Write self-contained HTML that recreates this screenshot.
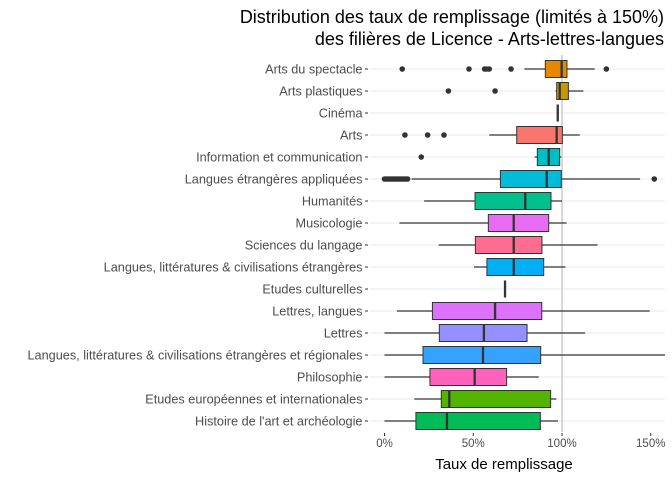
<!DOCTYPE html>
<html><head><meta charset="utf-8"><style>
body{margin:0;background:#fff;}
svg text{font-family:"Liberation Sans",sans-serif;}
</style></head><body>
<svg id="chart" width="672" height="480" xmlns="http://www.w3.org/2000/svg">
<text x="664" y="23" text-anchor="end" font-size="18" fill="#000">Distribution des taux de remplissage (limités à 150%)</text>
<text x="664" y="45" text-anchor="end" font-size="18" fill="#000">des filières de Licence - Arts-lettres-langues</text>
<g id="grid"></g><g id="marks"></g><g id="axes"></g>
<text x="504" y="469" text-anchor="middle" font-size="15" fill="#000">Taux de remplissage</text>
</svg>
<script>
const categories=["Arts du spectacle","Arts plastiques","Cinéma","Arts","Information et communication","Langues étrangères appliquées","Humanités","Musicologie","Sciences du langage","Langues, littératures & civilisations étrangères","Etudes culturelles","Lettres, langues","Lettres","Langues, littératures & civilisations étrangères et régionales","Philosophie","Etudes européennes et internationales","Histoire de l'art et archéologie"];
const whiskerLow=[78.8,96.4,97.6,59,84.6,15.3,22.3,8.4,30.5,50.4,67.9,7,0,0,0,16.8,0];
const q1=[90.6,97,97.6,74.5,86.1,65.3,51,58.5,51.2,57.7,67.9,27,30.9,21.7,25.6,32,17.7];
const medians=[99.8,98.7,97.6,97,92.5,91.4,79.3,72.8,72.8,72.8,67.9,62.3,56,55.5,50.8,36.5,35.2];
const q3=[102.8,103.6,97.6,100.2,98.7,99.6,93.8,92.5,88.7,89.7,67.9,88.6,80.3,88,68.8,93.6,87.8];
const whiskerHigh=[118.4,112,97.6,110,99.6,144,100,102.6,120,102,67.9,149.4,113,158,86.9,96.8,97.7];
const outliers=[[10,47.6,56.4,57.5,59,71.3,125],[36,62.3],[],[11.5,24.3,33.5],[20.7],[0,1,2,3,4,5,6,7,8,9,10,11,12,13,152],[],[],[],[],[],[],[],[],[],[],[]];
const colors=["#E58700","#C99800","#A3A500","#F8766D","#00BFC4","#00BCD8","#00C08B","#E76BF3","#FF6C91","#00B0F6","#6BB100","#DC71FA","#9590FF","#35A2FF","#FF62BC","#53B400","#00BC56"];
const xTicks=[0,50,100,150];
const xTickLabels=["0%","50%","100%","150%"];
const NS="http://www.w3.org/2000/svg";
const x=v=>384.5+v*1.775;
const y=i=>69+i*22;
const P0=369,P1=665;
function mk(t,a,p){const e=document.createElementNS(NS,t);for(const k in a)e.setAttribute(k,a[k]);p.appendChild(e);return e;}
const grid=document.getElementById('grid'),marks=document.getElementById('marks'),axes=document.getElementById('axes');
categories.forEach((c,i)=>{
 const g=mk('line',{x1:P0,x2:P1,y1:y(i),y2:y(i),stroke:'#ebebeb','stroke-width':1.1},grid);
 
 
 const tk=mk('line',{x1:365,x2:368,y1:y(i),y2:y(i),stroke:'#333','stroke-width':1},axes);
 
 
 const t=mk('text',{x:362.5,y:y(i)+4.4,'text-anchor':'end','font-size':12.7,fill:'#4d4d4d'},axes);
 t.textContent=c;
 
 
});
const vl=mk('line',{x1:x(100),x2:x(100),y1:55,y2:432,stroke:'#bdbdbd','stroke-width':1.2},grid);


xTicks.forEach((v,k)=>{
 const tk=mk('line',{x1:x(v),x2:x(v),y1:433,y2:436,stroke:'#333'},axes);
 
 
 const t=mk('text',{x:x(v),y:447,'text-anchor':'middle','font-size':11.5,fill:'#4d4d4d'},axes);
 t.textContent=xTickLabels[k];
 
 
});
categories.forEach((c,i)=>{
 const yy=y(i);
 const w=mk('line',{x1:x(whiskerLow[i]),x2:x(whiskerHigh[i]),y1:yy,y2:yy,stroke:'#333','stroke-width':1.2},marks);
 
 
 const b=mk('rect',{x:x(q1[i]),y:yy-8.5,width:Math.max(0,x(q3[i])-x(q1[i])),height:17,fill:colors[i],stroke:'#333','stroke-width':1},marks);
 
 
 const m=mk('line',{x1:x(medians[i]),x2:x(medians[i]),y1:yy-8.5,y2:yy+8.5,stroke:'#333','stroke-width':2.3},marks);
 
 
 outliers[i].forEach(v=>{
  const o=mk('circle',{cx:x(v),cy:yy,r:2.8,fill:'#333'},marks);
  
  
 });
});
</script>
</body></html>
